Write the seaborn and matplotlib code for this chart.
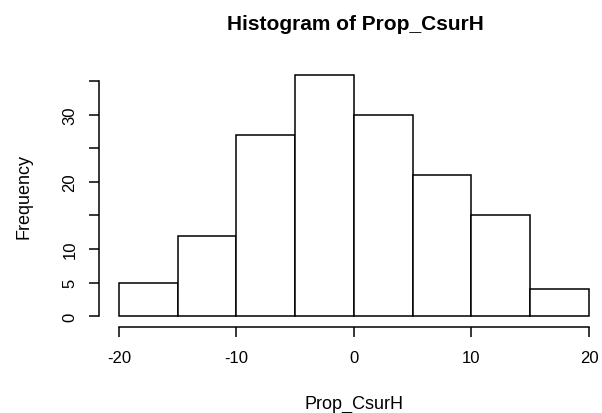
import numpy as np
import matplotlib
matplotlib.use('Agg')
import matplotlib.pyplot as plt
import seaborn as sns

# histogram data
bin_edges = [-20, -15, -10, -5, 0, 5, 10, 15, 20]
counts = [5, 12, 27, 36, 30, 21, 15, 4]
bin_mids = [(a + b) / 2 for a, b in zip(bin_edges[:-1], bin_edges[1:])]

x_ticks = [-20, -10, 0, 10, 20]
y_ticks = [0, 5, 10, 15, 20, 25, 30, 35]
y_tick_labels = ['0', '5', '10', '', '20', '', '30', '']

sns.set_style('white')
plt.rcParams['font.family'] = ['Liberation Sans', 'DejaVu Sans']
plt.rcParams['text.color'] = 'black'

fig = plt.figure(figsize=(6.02, 4.14), dpi=100)
W, H = 602, 414
ax = fig.add_axes([99 / W, (H - 328) / H, (W - 99) / W, (328 - 66) / H])

sns.histplot(x=bin_mids, weights=counts, bins=bin_edges, ax=ax,
             color='white', edgecolor='black', linewidth=1.1, alpha=1.0)

ax.set_xlim(-21.70, 21.11)
ax.set_ylim(-1.64, 37.46)

for s in ['top', 'right']:
    ax.spines[s].set_visible(False)
ax.spines['left'].set_bounds(0, 35)
ax.spines['bottom'].set_bounds(-20, 20)
for s in ['left', 'bottom']:
    ax.spines[s].set_color('black')
    ax.spines[s].set_linewidth(1.1)

ax.set_xticks(x_ticks)
ax.set_xticklabels([str(v) for v in x_ticks])
ax.set_yticks(y_ticks)
ax.set_yticklabels(y_tick_labels, rotation=90, va='center')
ax.tick_params(axis='both', direction='out', length=7.5, width=1.1,
               colors='black', labelsize=12, bottom=True, left=True)
ax.tick_params(axis='x', pad=9)
ax.tick_params(axis='y', pad=8)
ax.set_xlabel('')
ax.set_ylabel('')

fig.text(355 / W, 1 - 24 / H, 'Histogram of Prop_CsurH', ha='center', va='center',
         fontsize=15, fontweight='bold', color='black')
fig.text(354 / W, 1 - 404 / H, 'Prop_CsurH', ha='center', va='center',
         fontsize=13, color='black')
fig.text(24 / W, 1 - 197 / H, 'Frequency', ha='center', va='center',
         fontsize=13, rotation=90, color='black')

fig.savefig('out.png', dpi=100)
plt.close(fig)
